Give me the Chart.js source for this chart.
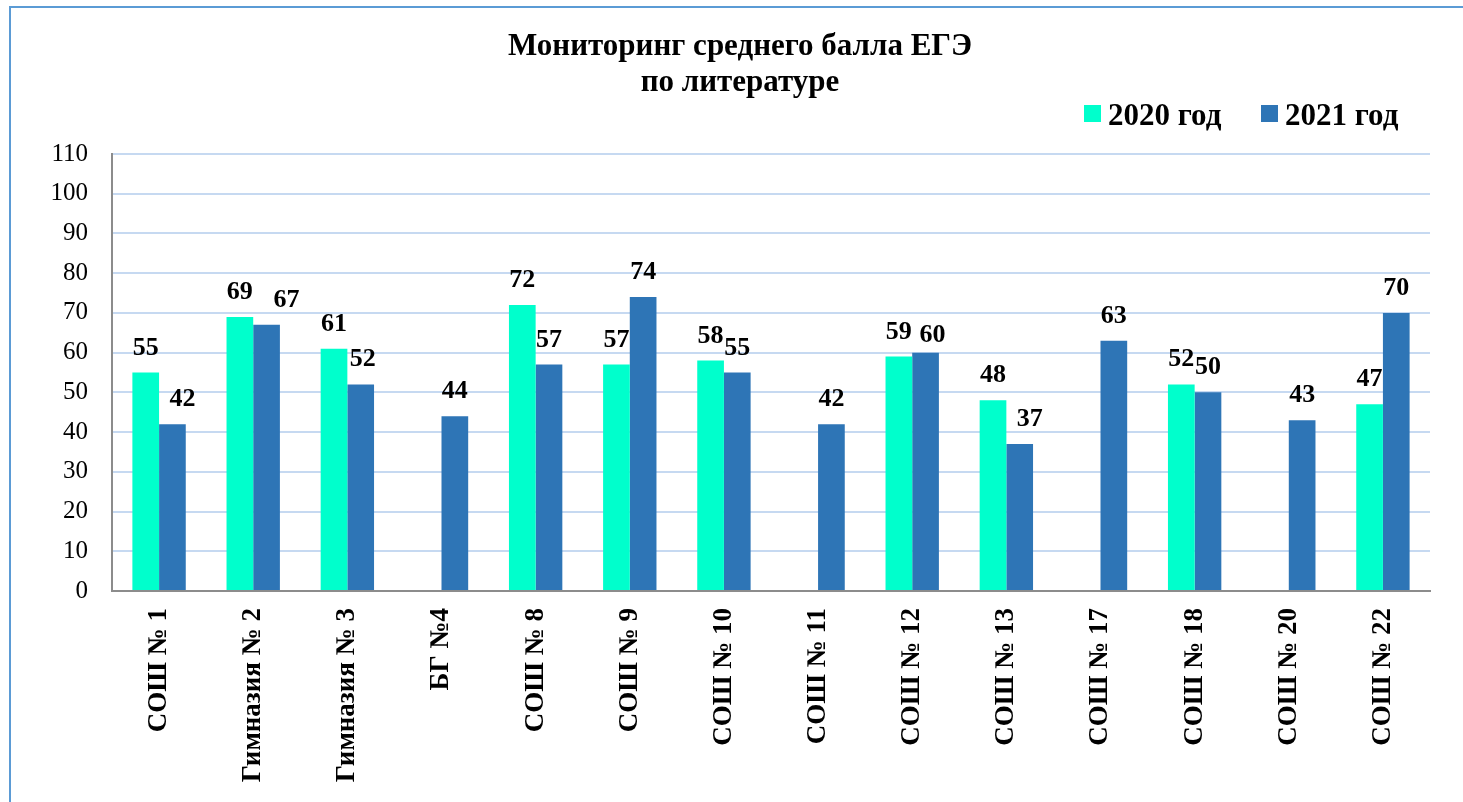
<!DOCTYPE html>
<html>
<head>
<meta charset="utf-8">
<script src="https://cdn.jsdelivr.net/npm/chart.js@4/dist/chart.umd.min.js"></script>
<style>
  html, body { margin: 0; padding: 0; background: #ffffff; }
  #wrap { width: 1463px; height: 802px; position: relative; }
</style>
</head>
<body>
<div id="wrap"><canvas id="c" width="1463" height="802"></canvas></div>
<script>
const categories = ["СОШ № 1", "Гимназия № 2", "Гимназия № 3", "БГ №4", "СОШ № 8", "СОШ № 9", "СОШ № 10", "СОШ № 11", "СОШ № 12", "СОШ № 13", "СОШ № 17", "СОШ № 18", "СОШ № 20", "СОШ № 22"];
const values2020 = [55, 69, 61, null, 72, 57, 58, null, 59, 48, null, 52, null, 47];
const values2021 = [42, 67, 52, 44, 57, 74, 55, 42, 60, 37, 63, 50, 43, 70];
const seriesNames = ["2020 год", "2021 год"];
const titleLines = ["Мониторинг среднего балла ЕГЭ", "по литературе"];
const yTicks = [0, 10, 20, 30, 40, 50, 60, 70, 80, 90, 100, 110];

const COLORS = ["#00FFCC", "#2E75B6"];
const SERIF = "'Liberation Serif', 'Times New Roman', serif";

// manual label nudges (as in the original, some labels were dragged aside)
const labelNudges = { "1:0": [10, 0], "1:1": [20, 0], "1:2": [2, 0], "1:8": [7, 7], "1:9": [10, 0] };

const framePlugin = {
  id: 'frame',
  beforeDraw(chart) {
    const ctx = chart.ctx;
    ctx.save();
    ctx.fillStyle = '#ffffff';
    ctx.fillRect(0, 0, chart.width, chart.height);
    ctx.fillStyle = '#5B9BD5';
    ctx.fillRect(9, 6, 2, chart.height);
    ctx.fillRect(9, 6, chart.width, 2);
    ctx.restore();
  }
};

const decorPlugin = {
  id: 'decor',
  afterDraw(chart) {
    const ctx = chart.ctx;
    ctx.save();
    ctx.fillStyle = '#000';
    ctx.font = "bold 31px " + SERIF;
    ctx.textAlign = 'center';
    ctx.textBaseline = 'alphabetic';
    ctx.fillText(titleLines[0], 740, 55);
    ctx.fillText(titleLines[1], 740, 91);
    const items = [{x: 1084}, {x: 1261}];
    ctx.font = "bold 31px " + SERIF;
    ctx.textAlign = 'left';
    items.forEach((it, i) => {
      ctx.fillStyle = COLORS[i];
      ctx.fillRect(it.x, 105, 17, 17);
      ctx.fillStyle = '#000';
      ctx.fillText(seriesNames[i], it.x + 24, 125);
    });
    ctx.restore();
  },
  afterDatasetsDraw(chart) {
    const ctx = chart.ctx;
    ctx.save();
    ctx.fillStyle = '#000';
    ctx.font = "bold 26px " + SERIF;
    ctx.textAlign = 'center';
    ctx.textBaseline = 'alphabetic';
    chart.data.datasets.forEach((ds, di) => {
      const meta = chart.getDatasetMeta(di);
      meta.data.forEach((el, i) => {
        const v = ds.data[i];
        if (v === null || v === undefined) return;
        const n = labelNudges[di + ":" + i] || [0, 0];
        ctx.fillText(String(v), el.x + n[0], el.y - 18 + n[1]);
      });
    });
    ctx.restore();
  }
};

new Chart(document.getElementById('c'), {
  type: 'bar',
  data: {
    labels: categories,
    datasets: [
      { label: seriesNames[0], data: values2020, backgroundColor: COLORS[0], borderWidth: 0,
        categoryPercentage: 0.567, barPercentage: 1.0 },
      { label: seriesNames[1], data: values2021, backgroundColor: COLORS[1], borderWidth: 0,
        categoryPercentage: 0.567, barPercentage: 1.0 }
    ]
  },
  options: {
    responsive: false,
    animation: false,
    layout: { padding: { left: 0, top: 154, right: 33, bottom: 0 } },
    plugins: {
      legend: { display: false },
      title: { display: false },
      tooltip: { enabled: false }
    },
    scales: {
      x: {
        grid: { display: false, drawTicks: false },
        border: { display: true, color: '#8C8C8C', width: 2 },
        ticks: {
          color: '#000',
          font: { family: SERIF, size: 27, weight: 'bold' },
          minRotation: 90, maxRotation: 90,
          autoSkip: false,
          padding: 17
        },
        afterFit(scale) { scale.height = 211; }
      },
      y: {
        min: 0, max: 110,
        afterBuildTicks(scale) { scale.ticks = yTicks.map(v => ({ value: v })); },
        grid: { color: '#C6D9F1', lineWidth: 2, drawTicks: false },
        border: { display: true, color: '#8C8C8C', width: 2 },
        ticks: {
          color: '#000',
          font: { family: SERIF, size: 25 },
          padding: 24
        },
        afterFit(scale) { scale.width = 112; }
      }
    }
  },
  plugins: [framePlugin, decorPlugin]
});
</script>
</body>
</html>
